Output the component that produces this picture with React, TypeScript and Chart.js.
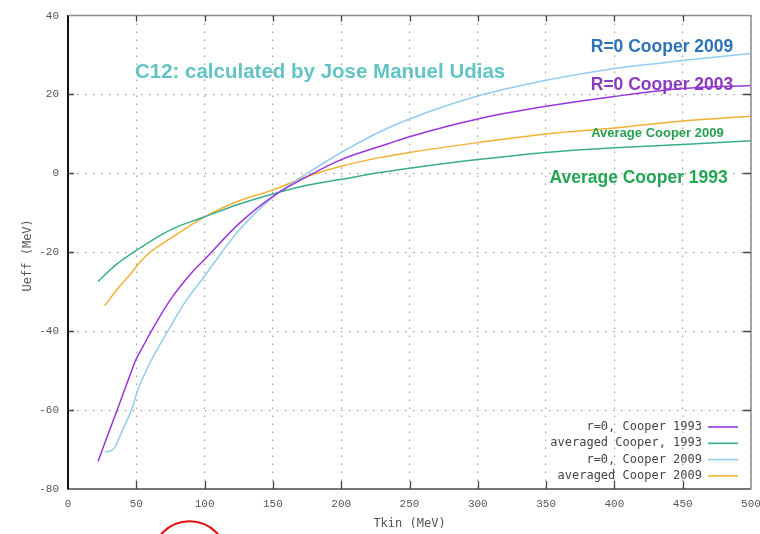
import React, { useEffect, useRef } from "react";
import { Chart, registerables } from "chart.js";

Chart.register(...registerables);

// ---- data ----
const purpleT = [22, 30, 36, 45, 50, 55, 61, 75, 91, 100, 125, 150, 175, 200, 228, 250, 300, 350, 400, 450, 500];
const purpleU = [-73, -65.5, -60, -51.5, -47, -43.8, -40, -32, -25, -21.8, -12.8, -5.8, -0.8, 3.5, 6.8, 9.3, 13.8, 17, 19.5, 21.5, 22.3];

const greenT = [22, 35, 50, 75, 100, 125, 150, 175, 200, 228, 250, 300, 350, 400, 450, 500];
const greenU = [-27.4, -23.2, -19.5, -14.3, -11, -7.8, -5.2, -3, -1.5, 0.2, 1.3, 3.5, 5.3, 6.5, 7.3, 8.3];

const blueT = [27, 33, 40, 47, 51, 60, 73, 85, 100, 125, 150, 175, 200, 228, 250, 300, 350, 400, 450, 500];
const blueU = [-70.6, -70, -65, -59.5, -55, -48, -40, -33, -26, -14.5, -6, 0, 5.3, 10.5, 13.8, 19.6, 23.6, 26.6, 28.6, 30.4];

const orangeT = [27, 35, 47, 50, 60, 75, 100, 125, 150, 175, 200, 228, 250, 300, 350, 400, 450, 500];
const orangeU = [-33.5, -29.8, -25, -23.6, -20, -16.5, -11, -7, -4.2, -0.8, 1.8, 4, 5.3, 7.8, 10, 11.5, 13.3, 14.5];

const seriesLabels = ["r=0, Cooper 1993", "averaged Cooper, 1993", "r=0, Cooper 2009", "averaged Cooper 2009"];
const seriesColors = ["#9a35dc", "#3aae8c", "#92cdee", "#f2b133"];

const xTickValues = [0, 50, 100, 150, 200, 250, 300, 350, 400, 450, 500];
const yTickValues = [-80, -60, -40, -20, 0, 20, 40];

const xTitle = "Tkin (MeV)";
const yTitle = "Ueff (MeV)";

// annotations: [text, T, U, align, font, color]
const annotations: [string, number, number, CanvasTextAlign, string, string][] = [
  ["C12: calculated by Jose Manuel Udias", 49, 25.6, "left", "bold 20.5px 'Liberation Sans', Arial, sans-serif", "#63c4c5"],
  ["R=0 Cooper 2009", 487, 31.9, "right", "bold 17.5px 'Liberation Sans', Arial, sans-serif", "#2c73b9"],
  ["R=0 Cooper 2003", 487, 22.4, "right", "bold 17.5px 'Liberation Sans', Arial, sans-serif", "#8a3bbf"],
  ["Average Cooper 2009", 480, 10.2, "right", "bold 13px 'Liberation Sans', Arial, sans-serif", "#26a04e"],
  ["Average Cooper 1993", 483, -1.3, "right", "bold 17.5px 'Liberation Sans', Arial, sans-serif", "#22a654"],
];

const toPts = (t: number[], u: number[]) => t.map((v, i) => ({ x: v, y: u[i] }));

const decor = {
  id: "decor",
  afterDraw(chart: any) {
    const { ctx, chartArea: a, scales } = chart;
    const x = scales.x;
    const y = scales.y;
    ctx.save();
    // top / right border
    ctx.strokeStyle = "#8c8c8c";
    ctx.lineWidth = 1.5;
    ctx.beginPath();
    ctx.moveTo(a.left, a.top);
    ctx.lineTo(a.right, a.top);
    ctx.lineTo(a.right, a.bottom);
    ctx.stroke();
    // inner ticks (gnuplot style)
    ctx.strokeStyle = "#444";
    ctx.lineWidth = 1.3;
    ctx.beginPath();
    xTickValues.forEach((v) => {
      if (v === xTickValues[0] || v === xTickValues[xTickValues.length - 1]) return;
      const px = Math.round(x.getPixelForValue(v)) + 0.5;
      ctx.moveTo(px, a.bottom);
      ctx.lineTo(px, a.bottom - 8);
      ctx.moveTo(px, a.top);
      ctx.lineTo(px, a.top + 6);
    });
    yTickValues.forEach((v) => {
      if (v === yTickValues[0] || v === yTickValues[yTickValues.length - 1]) return;
      const py = Math.round(y.getPixelForValue(v)) + 0.5;
      ctx.moveTo(a.left, py);
      ctx.lineTo(a.left + 6, py);
      ctx.moveTo(a.right, py);
      ctx.lineTo(a.right - 8, py);
    });
    ctx.stroke();

    // annotations
    ctx.textBaseline = "middle";
    annotations.forEach(([txt, t, u, align, font, color]) => {
      ctx.font = font;
      ctx.fillStyle = color;
      ctx.textAlign = align;
      ctx.fillText(txt, x.getPixelForValue(t), y.getPixelForValue(u));
    });

    // legend (bottom right, gnuplot style)
    ctx.font = "12px 'DejaVu Sans Mono', monospace";
    ctx.textAlign = "right";
    const textRight = a.right - 49;
    const lineL = a.right - 43;
    const lineR = a.right - 13;
    chart.data.datasets.forEach((ds: any, i: number) => {
      const ly = a.bottom - 62 + i * 16.3;
      ctx.fillStyle = "#444";
      ctx.fillText(ds.label, textRight, ly);
      ctx.strokeStyle = ds.borderColor;
      ctx.lineWidth = 1.6;
      ctx.beginPath();
      ctx.moveTo(lineL, ly);
      ctx.lineTo(lineR, ly);
      ctx.stroke();
    });

    // axis titles
    ctx.fillStyle = "#555";
    ctx.font = "12px 'DejaVu Sans Mono', monospace";
    ctx.textAlign = "center";
    ctx.fillText(xTitle, (a.left + a.right) / 2, a.bottom + 35);
    ctx.save();
    ctx.translate(28, (a.top + a.bottom) / 2 + 3);
    ctx.rotate(-Math.PI / 2);
    ctx.fillText(yTitle, 0, 0);
    ctx.restore();

    // red circle annotation (partly off the picture)
    ctx.strokeStyle = "#e41010";
    ctx.lineWidth = 2;
    ctx.beginPath();
    ctx.arc(x.getPixelForValue(89), y.getPixelForValue(-97.7), 37.5, 0, Math.PI * 2);
    ctx.stroke();
    ctx.restore();
  },
};

export default function App() {
  const ref = useRef<HTMLCanvasElement>(null);
  useEffect(() => {
    if (!ref.current) return;
    const mk = (i: number, t: number[], u: number[]) => ({
      label: seriesLabels[i],
      data: toPts(t, u),
      borderColor: seriesColors[i],
      backgroundColor: seriesColors[i],
      borderWidth: 1.5,
      pointRadius: 0,
      tension: 0.4,
      cubicInterpolationMode: "monotone" as const,
      fill: false,
    });
    const chart = new Chart(ref.current, {
      type: "line",
      data: {
        datasets: [
          mk(0, purpleT, purpleU),
          mk(1, greenT, greenU),
          mk(2, blueT, blueU),
          mk(3, orangeT, orangeU),
        ],
      },
      options: {
        animation: false,
        responsive: false,
        devicePixelRatio: 1,
        layout: { padding: { left: 0, right: 29, top: 11, bottom: 0 } },
        plugins: { legend: { display: false }, tooltip: { enabled: false } },
        scales: {
          x: {
            type: "linear",
            min: 0,
            max: 500,
            afterFit: (s: any) => { s.height = 45; },
            afterBuildTicks: (s: any) => { s.ticks = xTickValues.map((v) => ({ value: v })); },
            ticks: {
              autoSkip: false,
              maxRotation: 0,
              padding: 8,
              color: "#555",
              font: { family: "'Liberation Mono', monospace", size: 11 },
            },
            grid: { color: "#a0a0a0", lineWidth: 1.2, drawTicks: false },
            border: { color: "#777", width: 2, dash: [1.5, 6.5] },
          },
          y: {
            type: "linear",
            min: -80,
            max: 40,
            afterFit: (s: any) => { s.width = 68; },
            afterBuildTicks: (s: any) => { s.ticks = yTickValues.map((v) => ({ value: v })); },
            ticks: {
              padding: 9,
              color: "#555",
              font: { family: "'Liberation Mono', monospace", size: 11 },
            },
            grid: { color: "#a0a0a0", lineWidth: 1.2, drawTicks: false },
            border: { color: "#111", width: 2, dash: [1.5, 6.5] },
          },
        },
      },
      plugins: [decor],
    });
    return () => chart.destroy();
  }, []);
  return (
    <div style={{ position: "fixed", left: 0, top: 0, width: 780, height: 534, background: "#fff" }}>
      <canvas ref={ref} width={780} height={534} style={{ display: "block" }} />
    </div>
  );
}
